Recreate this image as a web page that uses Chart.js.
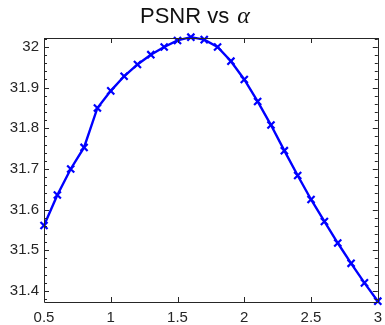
<!DOCTYPE html>
<html>
<head>
<meta charset="utf-8">
<script src="https://cdn.jsdelivr.net/npm/chart.js@4/dist/chart.umd.min.js"></script>
<style>
  html, body { margin: 0; padding: 0; background: #fff; }
  #wrap { width: 385px; height: 325px; }
</style>
</head>
<body>
<div id="wrap"><canvas id="psnrCanvas" width="385" height="325"></canvas></div>
<script>
const psnrCanvas = document.getElementById("psnrCanvas");

// alpha values (x) and PSNR
var alphaValues = [0.5, 0.6, 0.7, 0.8, 0.9, 1.0, 1.1, 1.2, 1.3, 1.4, 1.5, 1.6, 1.7,
                   1.8, 1.9, 2.0, 2.1, 2.2, 2.3, 2.4, 2.5, 2.6, 2.7, 2.8, 2.9, 3.0];
var psnrValues = [31.561, 31.636, 31.700, 31.753, 31.850, 31.892, 31.928, 31.957, 31.981,
                  32.000, 32.016, 32.024, 32.018, 32.000, 31.965, 31.920, 31.866, 31.808,
                  31.745, 31.684, 31.625, 31.571, 31.518, 31.468, 31.420, 31.375];

var xTicks = [0.5, 1, 1.5, 2, 2.5, 3];
var yTicks = [31.4, 31.5, 31.6, 31.7, 31.8, 31.9, 32];

var axisColor = "#262626";
var lineColor = "#0000ff";

var points = [];
for (let i = 0; i < alphaValues.length; i++) {
  points.push({x: alphaValues[i], y: psnrValues[i]});
}

// box + inward ticks like the matlab axes
const boxAxes = {
  id: "boxAxes",
  afterDraw(chart) {
    const ctx = chart.ctx;
    const a = chart.chartArea;
    const xs = chart.scales.x, ys = chart.scales.y;
    ctx.save();
    ctx.strokeStyle = axisColor;
    ctx.lineWidth = 1;
    ctx.beginPath();
    ctx.rect(Math.round(a.left) + 0.5, Math.round(a.top) + 0.5,
             Math.round(a.right - a.left), Math.round(a.bottom - a.top));
    ctx.stroke();
    ctx.beginPath();
    xTicks.forEach(v => {
      const px = Math.round(xs.getPixelForValue(v)) + 0.5;
      ctx.moveTo(px, a.bottom); ctx.lineTo(px, a.bottom - 5);
      ctx.moveTo(px, a.top); ctx.lineTo(px, a.top + 5);
    });
    // y minor ticks every 0.02
    for (let k = 0; k < 40; k++) {
      const v = 31.36 + k * 0.02;
      if (v < ys.min || v > ys.max) continue;
      const major = Math.abs(v * 10 - Math.round(v * 10)) < 1e-6;
      const len = major ? 5 : 3;
      const py = Math.round(ys.getPixelForValue(v)) + 0.5;
      ctx.moveTo(a.left, py); ctx.lineTo(a.left + len, py);
      ctx.moveTo(a.right, py); ctx.lineTo(a.right - len, py);
    }
    ctx.stroke();

    // title with italic alpha
    const t1 = "PSNR vs ";
    const t2 = "\u03b1";
    ctx.fillStyle = "#111";
    ctx.textBaseline = "alphabetic";
    ctx.font = "22px 'Liberation Sans', Arial, sans-serif";
    const w1 = ctx.measureText(t1).width;
    const x0 = 140;
    ctx.fillText(t1, x0, 23);
    ctx.font = "italic 24px 'Liberation Serif', 'DejaVu Serif', serif";
    ctx.fillText(t2, x0 + w1 + 2, 23);
    ctx.restore();
  }
};

new Chart(psnrCanvas, {
  type: "line",
  data: {
    datasets: [{
      data: points,
      borderColor: lineColor,
      backgroundColor: lineColor,
      borderWidth: 2.4,
      tension: 0,
      pointStyle: "crossRot",
      pointRadius: 5,
      pointBorderWidth: 2.2,
      pointHoverRadius: 5,
      clip: false
    }]
  },
  options: {
    responsive: false,
    animation: false,
    events: [],
    layout: { padding: { left: 0, right: 4, top: 38, bottom: 0 } },
    plugins: {
      legend: { display: false },
      title: { display: false },
      tooltip: { enabled: false }
    },
    scales: {
      x: {
        type: "linear",
        min: 0.5,
        max: 3,
        grid: { display: false, drawTicks: false },
        border: { display: false },
        afterBuildTicks: s => { s.ticks = xTicks.map(v => ({value: v})); },
        afterFit: s => { s.height = 23; s.paddingLeft = 0; s.paddingRight = 0; },
        ticks: {
          padding: 7,
          color: axisColor,
          maxRotation: 0,
          font: { family: "'Liberation Sans', Arial, sans-serif", size: 15 },
          callback: v => String(v)
        }
      },
      y: {
        type: "linear",
        min: 31.373,
        max: 32.022,
        grid: { display: false, drawTicks: false },
        border: { display: false },
        afterBuildTicks: s => { s.ticks = yTicks.map(v => ({value: v})); },
        afterFit: s => { s.width = 44; s.paddingTop = 0; s.paddingBottom = 0; },
        ticks: {
          padding: 5,
          color: axisColor,
          font: { family: "'Liberation Sans', Arial, sans-serif", size: 15 },
          callback: v => String(Math.round(v * 10) / 10)
        }
      }
    }
  },
  plugins: [boxAxes]
});
</script>
</body>
</html>
